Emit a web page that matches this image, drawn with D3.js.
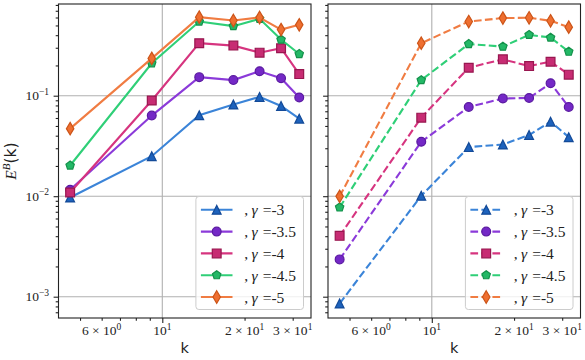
<!DOCTYPE html>
<html><head><meta charset="utf-8">
<script src="https://cdn.jsdelivr.net/npm/d3@7"></script>
<style>body{margin:0;background:#fff;} svg{display:block;}</style>
</head><body><svg id="c" width="585" height="360"></svg>
<script>
// ---- data ----
const kValues = [4.6, 9.15, 13.65, 18.2, 22.7, 27.2, 31.7];
const gammaLabels = ["-3", "-3.5", "-4", "-4.5", "-5"];
const leftG3  = [0.0097, 0.025, 0.0638, 0.0817, 0.0973, 0.079, 0.059];
const leftG35 = [0.0116, 0.0634, 0.153, 0.143, 0.175, 0.149, 0.096];
const leftG4  = [0.0109, 0.0895, 0.333, 0.315, 0.268, 0.297, 0.164];
const leftG45 = [0.0202, 0.21, 0.547, 0.492, 0.582, 0.362, 0.26];
const leftG5  = [0.047, 0.235, 0.605, 0.56, 0.6, 0.455, 0.507];
const rightG3  = [0.000855, 0.0101, 0.0308, 0.0327, 0.0406, 0.0552, 0.0387];
const rightG35 = [0.00235, 0.0348, 0.0773, 0.0937, 0.095, 0.133, 0.0773];
const rightG4  = [0.00403, 0.0605, 0.19, 0.23, 0.197, 0.218, 0.162];
const rightG45 = [0.00773, 0.143, 0.327, 0.308, 0.403, 0.379, 0.274];
const rightG5  = [0.00996, 0.333, 0.547, 0.592, 0.596, 0.556, 0.481];
const xMajorTicks = [10];
const xMinorTicks = [5, 6, 7, 8, 9, 20, 30];
const xTickLabels = [{v: 6, m: "6 × 10", e: "0"}, {v: 10, m: "10", e: "1"}, {v: 20, m: "2 × 10", e: "1"}, {v: 30, m: "3 × 10", e: "1"}];
const yMajorTicks = [1e-3, 1e-2, 1e-1];
const yTickLabels = [{v: 1e-3, e: "−3"}, {v: 1e-2, e: "−2"}, {v: 1e-1, e: "−1"}];

// ---- style ----
const lineColors = ["#3b84d8", "#8b3ad9", "#d6347f", "#2fcf77", "#f07c42"];
const fillColors = ["#1d62bc", "#7428c6", "#c72c73", "#23b866", "#ef6f30"];
const edgeColors = ["#134a98", "#5a1aa0", "#98164f", "#13914a", "#cc5418"];
const markerTypes = ["tri", "circle", "square", "pent", "diamond"];
const MS = 8.8;

const svg = d3.select("#c");
const yTop = 4, yBot = 318;
const xDomain = [Math.pow(10, 0.6202), Math.pow(10, 1.5441)];
const yDomain = [Math.pow(10, -3.212), Math.pow(10, -0.0876)];
const serif = "'Liberation Serif', 'DejaVu Serif', serif";
const sans = "'DejaVu Sans', sans-serif";

function markerPath(type, s) {
  const h = s / 2;
  if (type === "tri") return `M0,${-h}L${-h},${h}L${h},${h}Z`;
  if (type === "square") return `M${-h},${-h}H${h}V${h}H${-h}Z`;
  if (type === "circle") return d3.arc()({innerRadius: 0, outerRadius: h, startAngle: 0, endAngle: 2 * Math.PI});
  if (type === "pent") {
    let p = "";
    for (let i = 0; i < 5; i++) {
      const a = -Math.PI / 2 + i * 2 * Math.PI / 5;
      p += (i ? "L" : "M") + (h * Math.cos(a)).toFixed(2) + "," + (h * Math.sin(a)).toFixed(2);
    }
    return p + "Z";
  }
  if (type === "diamond") {
    const dh = s * 0.707, dw = s * 0.6 * 0.707;
    return `M0,${-dh}L${dw},0L0,${dh}L${-dw},0Z`;
  }
}

const panels = [
  {x0: 58.5, x1: 311, series: [leftG3, leftG35, leftG4, leftG45, leftG5], dash: null, labels: true},
  {x0: 328, x1: 580.5, series: [rightG3, rightG35, rightG4, rightG45, rightG5], dash: "7.7,3.3", labels: false}
];

panels.forEach(P => {
  const x = d3.scaleLog().domain(xDomain).range([P.x0, P.x1]);
  const y = d3.scaleLog().domain(yDomain).range([yBot, yTop]);
  const g = svg.append("g");

  // grid
  g.selectAll(".gx").data(xMajorTicks).join("line")
    .attr("x1", d => x(d)).attr("x2", d => x(d)).attr("y1", yTop).attr("y2", yBot)
    .attr("stroke", "#b0b0b0").attr("stroke-width", 1.1);
  g.selectAll(".gy").data(yMajorTicks).join("line")
    .attr("y1", d => y(d)).attr("y2", d => y(d)).attr("x1", P.x0).attr("x2", P.x1)
    .attr("stroke", "#b0b0b0").attr("stroke-width", 1.1);

  // axes ticks
  const ax = g.append("g").attr("transform", `translate(0,${yBot})`);
  ax.append("g").call(d3.axisBottom(x).tickValues(xMajorTicks).tickSize(4.9).tickFormat(""));
  ax.append("g").call(d3.axisBottom(x).tickValues(xMinorTicks).tickSize(2.8).tickFormat(""));
  const yMinor = [];
  [1e-4, 1e-3, 1e-2, 1e-1].forEach(b => { for (let i = 2; i <= 9; i++) { const v = b * i; if (v >= yDomain[0] && v <= yDomain[1]) yMinor.push(v); } });
  const ay = g.append("g").attr("transform", `translate(${P.x0},0)`);
  ay.append("g").call(d3.axisLeft(y).tickValues(yMajorTicks).tickSize(4.9).tickFormat(""));
  ay.append("g").call(d3.axisLeft(y).tickValues(yMinor).tickSize(2.8).tickFormat(""));
  g.selectAll(".domain").remove();
  g.selectAll(".tick line").attr("stroke", "#222").attr("stroke-width", 1.1);

  // tick labels
  xTickLabels.forEach(t => {
    const tx = g.append("text").attr("x", x(t.v)).attr("y", 335).attr("text-anchor", "middle")
      .attr("font-family", serif).attr("font-size", 13.5).attr("fill", "#222");
    tx.append("tspan").text(t.m);
    tx.append("tspan").attr("dy", -5.5).attr("font-size", 9.5).text(t.e);
  });
  if (P.labels) {
    yTickLabels.forEach(t => {
      const tx = g.append("text").attr("x", 49).attr("y", y(t.v) + 4.5).attr("text-anchor", "end")
        .attr("font-family", serif).attr("font-size", 13.5).attr("fill", "#222");
      tx.append("tspan").text("10");
      tx.append("tspan").attr("dy", -5.5).attr("font-size", 9.5).text(t.e);
    });
  }

  // series
  const line = d3.line().x(d => x(d.k)).y(d => y(d.v));
  P.series.forEach((vals, si) => {
    const pts = kValues.map((k, i) => ({k, v: vals[i]}));
    const s = g.append("g");
    s.append("path").attr("d", line(pts)).attr("fill", "none")
      .attr("stroke", lineColors[si]).attr("stroke-width", 2.1)
      .attr("stroke-dasharray", P.dash);
    s.selectAll("path.m").data(pts).join("path").attr("class", "m")
      .attr("transform", d => `translate(${x(d.k)},${y(d.v)})`)
      .attr("d", markerPath(markerTypes[si], MS))
      .attr("fill", fillColors[si]).attr("stroke", edgeColors[si]).attr("stroke-width", 1.2);
  });

  // frame
  g.append("rect").attr("x", P.x0).attr("y", yTop).attr("width", P.x1 - P.x0).attr("height", yBot - yTop)
    .attr("fill", "none").attr("stroke", "#222").attr("stroke-width", 1.1);

  // legend
  const lx = P.x1 - 7.5 - 107.6, ly = 196.5;
  const lg = g.append("g");
  lg.append("rect").attr("x", lx).attr("y", ly).attr("width", 107.6).attr("height", 113)
    .attr("rx", 3).attr("fill", "#fff").attr("fill-opacity", 0.8)
    .attr("stroke", "#cccccc").attr("stroke-width", 1);
  gammaLabels.forEach((gl, i) => {
    const ry = 209.8 + i * 21.8;
    lg.append("line").attr("x1", lx + 5).attr("x2", lx + 36.6).attr("y1", ry).attr("y2", ry)
      .attr("stroke", lineColors[i]).attr("stroke-width", 2.1).attr("stroke-dasharray", P.dash);
    lg.append("path").attr("transform", `translate(${lx + 20.8},${ry})`).attr("d", markerPath(markerTypes[i], MS))
      .attr("fill", fillColors[i]).attr("stroke", edgeColors[i]).attr("stroke-width", 1.2);
    const t = lg.append("text").attr("x", lx + 48.3).attr("y", ry + 5.5).attr("font-family", serif)
      .attr("font-size", 15.5).attr("fill", "#222");
    t.append("tspan").text(",");
    t.append("tspan").attr("dx", 3.5).attr("font-style", "italic").text("γ");
    t.append("tspan").attr("dx", 5).text("=");
    t.append("tspan").text(gl);
  });

  // x label
  g.append("text").attr("x", (P.x0 + P.x1) / 2).attr("y", 353).attr("text-anchor", "middle")
    .attr("font-family", sans).attr("font-size", 14.5).attr("fill", "#222").text("k");
});

// y label
const yl = svg.append("text").attr("transform", "translate(16,161) rotate(-90)").attr("text-anchor", "middle")
  .attr("font-size", 15.5).attr("fill", "#222");
yl.append("tspan").attr("font-family", serif).attr("font-style", "italic").text("E");
yl.append("tspan").attr("font-family", serif).attr("font-style", "italic").attr("font-size", 11).attr("dy", -6.5).text("B");
yl.append("tspan").attr("font-family", sans).attr("dy", 6.5).text("(k)");
</script></body></html>
